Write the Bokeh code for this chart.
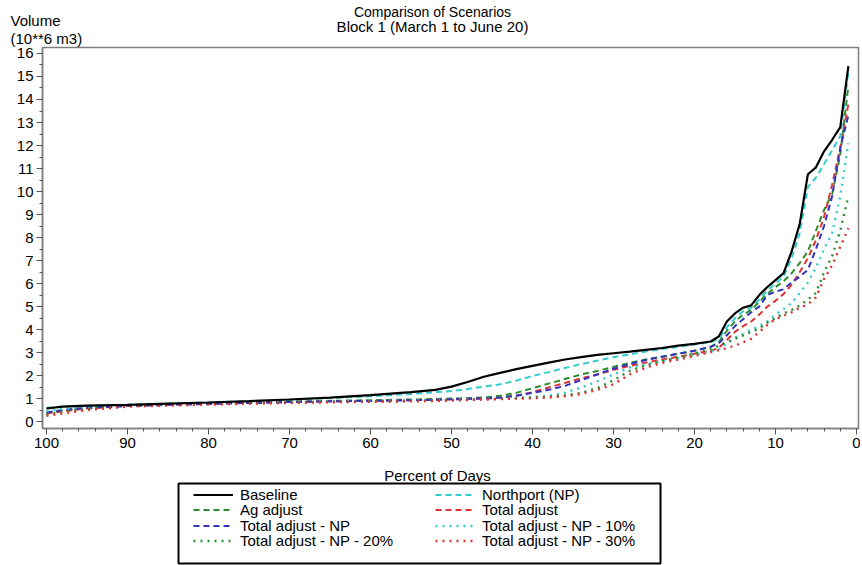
from bokeh.plotting import figure
from bokeh.layouts import column
from bokeh.models import Range1d, Legend, LegendItem, SingleIntervalTicker
from bokeh.core.properties import value
from bokeh.embed import file_html
from bokeh.resources import INLINE

# ---------------- data ----------------
percent_of_days = [100, 98, 95, 90, 85, 80, 75, 70, 65, 60,
                   55, 52, 50, 48, 46, 44, 42, 40, 38, 36,
                   34, 32, 30, 28, 26, 24, 22, 20, 18, 17,
                   16, 15, 14, 13, 12, 11, 10, 9, 8, 7,
                   6, 5, 4, 3, 2, 1]

baseline = [0.57, 0.65, 0.69, 0.73, 0.78, 0.83, 0.89, 0.96, 1.04, 1.15,
            1.28, 1.38, 1.52, 1.72, 1.95, 2.12, 2.28, 2.42, 2.56, 2.70,
            2.80, 2.90, 2.97, 3.04, 3.12, 3.20, 3.30, 3.38, 3.48, 3.70,
            4.35, 4.70, 4.95, 5.05, 5.50, 5.85, 6.15, 6.45, 7.40, 8.60,
            10.75, 11.05, 11.75, 12.25, 12.80, 15.45]

northport = [0.60, 0.66, 0.69, 0.73, 0.78, 0.83, 0.88, 0.95, 1.02, 1.10,
             1.20, 1.28, 1.33, 1.42, 1.52, 1.62, 1.78, 1.98, 2.15, 2.33,
             2.50, 2.65, 2.80, 2.92, 3.05, 3.15, 3.25, 3.35, 3.45, 3.60,
             4.10, 4.50, 4.80, 4.95, 5.30, 5.70, 6.00, 6.30, 7.10, 8.20,
             10.20, 10.60, 11.20, 11.80, 12.40, 15.20]

ag_adjust = [0.38, 0.50, 0.60, 0.70, 0.75, 0.80, 0.84, 0.87, 0.90, 0.93,
             0.96, 0.98, 1.00, 1.02, 1.05, 1.12, 1.25, 1.45, 1.65, 1.85,
             2.05, 2.20, 2.38, 2.55, 2.70, 2.82, 2.95, 3.08, 3.25, 3.45,
             3.95, 4.35, 4.65, 4.85, 5.20, 5.55, 5.85, 6.10, 6.45, 6.90,
             7.40, 8.30, 9.20, 9.90, 11.60, 14.60]

total_adjust = [0.35, 0.45, 0.57, 0.68, 0.73, 0.77, 0.81, 0.85, 0.88, 0.90,
                0.93, 0.95, 0.97, 0.99, 1.00, 1.04, 1.12, 1.28, 1.48, 1.68,
                1.88, 2.05, 2.25, 2.42, 2.57, 2.70, 2.82, 2.95, 3.08, 3.20,
                3.55, 3.90, 4.15, 4.35, 4.65, 5.00, 5.25, 5.55, 5.95, 6.50,
                7.10, 7.90, 8.90, 10.30, 11.90, 13.80]

total_adjust_np = [0.40, 0.50, 0.60, 0.68, 0.73, 0.77, 0.81, 0.85, 0.88, 0.90,
                   0.93, 0.95, 0.97, 0.99, 1.01, 1.05, 1.12, 1.25, 1.38, 1.55,
                   1.80, 2.05, 2.30, 2.50, 2.68, 2.82, 2.95, 3.08, 3.25, 3.40,
                   3.75, 4.15, 4.45, 4.75, 5.00, 5.50, 5.65, 5.75, 6.05, 6.30,
                   6.60, 7.50, 8.50, 9.80, 11.90, 13.30]

total_adjust_np_10 = [0.45, 0.55, 0.63, 0.70, 0.74, 0.78, 0.82, 0.85, 0.88, 0.90,
                      0.92, 0.94, 0.95, 0.97, 0.99, 1.00, 1.03, 1.07, 1.12, 1.25,
                      1.48, 1.75, 2.05, 2.35, 2.50, 2.62, 2.75, 2.90, 3.05, 3.15,
                      3.40, 3.65, 3.80, 4.00, 4.15, 4.35, 4.65, 4.90, 5.15, 5.60,
                      6.05, 6.70, 7.50, 8.20, 9.80, 12.10]

total_adjust_np_20 = [0.30, 0.42, 0.55, 0.68, 0.72, 0.76, 0.80, 0.83, 0.86, 0.88,
                      0.90, 0.92, 0.93, 0.95, 0.97, 0.99, 1.01, 1.04, 1.08, 1.14,
                      1.25, 1.45, 1.80, 2.20, 2.45, 2.63, 2.80, 2.95, 3.15, 3.30,
                      3.45, 3.60, 3.75, 3.90, 4.05, 4.30, 4.50, 4.70, 4.85, 5.05,
                      5.30, 5.60, 6.50, 7.20, 8.30, 9.80]

total_adjust_np_30 = [0.25, 0.35, 0.50, 0.65, 0.70, 0.74, 0.78, 0.81, 0.84, 0.86,
                      0.88, 0.90, 0.92, 0.94, 0.96, 0.98, 1.00, 1.02, 1.05, 1.10,
                      1.20, 1.38, 1.62, 2.05, 2.35, 2.55, 2.70, 2.85, 3.02, 3.10,
                      3.20, 3.30, 3.45, 3.60, 3.90, 4.20, 4.45, 4.60, 4.75, 4.95,
                      5.10, 5.40, 6.20, 6.80, 7.60, 8.40]

series_names = ["Baseline", "Northport (NP)", "Ag adjust", "Total adjust",
                "Total adjust - NP", "Total adjust - NP - 10%",
                "Total adjust - NP - 20%", "Total adjust - NP - 30%"]

title_lines = ["Comparison of Scenarios", "Block 1 (March 1 to June 20)"]
y_title_lines = ["Volume", "(10**6 m3)"]
x_title = "Percent of Days"

# ---------------- styling ----------------
FONT = "Liberation Sans"
W, H = 860, 565
FL, FR, FT, FB = 42, 858, 47, 428          # frame edges (canvas px)
X_START, X_END = 100.49, -0.25
Y_START, Y_END = -0.30, 16.26

series_styles = [
    ("black", "solid", 2.2),
    ("#33cccc", "6 4", 2),
    ("#2e8b2e", "6 4", 2),
    ("#dd3333", "6 4", 2),
    ("#3333c0", "6 4", 2),
    ("#33cccc", "2 5", 2.4),
    ("#2e8b2e", "2 5", 2.4),
    ("#dd3333", "2 5", 2.4),
]
series_values = [baseline, northport, ag_adjust, total_adjust, total_adjust_np,
                 total_adjust_np_10, total_adjust_np_20, total_adjust_np_30]

# ---------------- main chart ----------------
p = figure(width=W, height=H, output_backend="svg", toolbar_location=None,
           x_range=Range1d(X_START, X_END), y_range=Range1d(Y_START, Y_END),
           min_border_left=FL, min_border_right=W - FR,
           min_border_top=FT, min_border_bottom=H - FB)
p.background_fill_color = "white"
p.border_fill_color = "white"
p.outline_line_color = "#7f7f7f"
p.outline_line_width = 1.5
p.xgrid.visible = False
p.ygrid.visible = False

p.xaxis.ticker = SingleIntervalTicker(interval=10, num_minor_ticks=5)
p.yaxis.ticker = SingleIntervalTicker(interval=1, num_minor_ticks=2)
for ax in (p.xaxis[0], p.yaxis[0]):
    ax.axis_line_color = "#7f7f7f"
    ax.axis_line_width = 1.5
    ax.major_tick_line_color = "#555555"
    ax.minor_tick_line_color = "#555555"
    ax.major_tick_in = 0
    ax.major_tick_out = 6
    ax.minor_tick_in = 0
    ax.minor_tick_out = 3
    ax.major_label_text_font = FONT
    ax.major_label_text_font_size = "15px"
    ax.major_label_text_color = "black"
p.xaxis.major_label_standoff = 3
p.yaxis.major_label_standoff = 3

renderers = []
for vals, (color, dash, lw) in zip(series_values, series_styles):
    renderers.append(p.line(percent_of_days, vals, line_color=color,
                            line_dash=dash, line_width=lw))
# baseline drawn on top
p.renderers.remove(renderers[0])
p.renderers.append(renderers[0])

# ---------------- overlay for titles and legend ----------------
q = figure(width=W, height=H, output_backend="svg", toolbar_location=None,
           x_range=Range1d(0, W), y_range=Range1d(H, 0),
           x_axis_location=None, y_axis_location=None,
           min_border=0, min_border_left=0, min_border_right=0,
           min_border_top=0, min_border_bottom=0)
q.styles = {"margin-top": f"-{H}px"}
q.background_fill_color = None
q.border_fill_color = None
q.outline_line_color = None
q.xgrid.visible = False
q.ygrid.visible = False
for fig in (p, q):
    if "frame_align" in fig.properties():
        fig.frame_align = False


def add_text(txt, px, py, align, size="15px"):
    q.text(x=[px], y=[py], text=[txt], text_font=value(FONT),
           text_font_size=value(size), text_color="black",
           text_align=align, text_baseline="alphabetic")


add_text(title_lines[0], 432, 11, "center", "14px")
add_text(title_lines[1], 432, 26, "center")
add_text(y_title_lines[0], 10, 20, "left")
add_text(y_title_lines[1], 10, 38, "left")
add_text(x_title, 437, 475, "center")

# legend frame
q.quad(left=[178], right=[660], top=[483], bottom=[563],
       fill_color=None, line_color="black", line_width=2)

# legend sample renderers (kept outside the visible canvas)
legend_renderers = [q.line(x=[-30, -20], y=[-30, -30], line_color=c, line_dash=d,
                           line_width=lw)
                    for c, d, lw in series_styles]

PAD = 2
ROW_H = 17          # height Bokeh gives one 15px legend row
FIRST_ROW = 494     # centre of first legend row (canvas px)
ROW_STEP = 15.5
COL_X = [193, 435]  # start of the legend samples in each column
common = dict(orientation="vertical", glyph_width=40, glyph_height=15,
              label_height=15, spacing=0, padding=PAD, margin=0, label_standoff=7,
              label_text_font=FONT, label_text_font_size="15px",
              label_text_color="black", border_line_alpha=0,
              background_fill_alpha=0)
for i, name in enumerate(series_names):
    col, row = i % 2, i // 2
    centre = FIRST_ROW + row * ROW_STEP
    bottom = centre + ROW_H / 2 + PAD
    leg = Legend(items=[LegendItem(label=name, renderers=[legend_renderers[i]])],
                 location=(COL_X[col] - PAD, H - bottom), **common)
    q.add_layout(leg, "center")

layout = column(p, q, spacing=0)
open("out.html", "w").write(file_html(layout, INLINE))
